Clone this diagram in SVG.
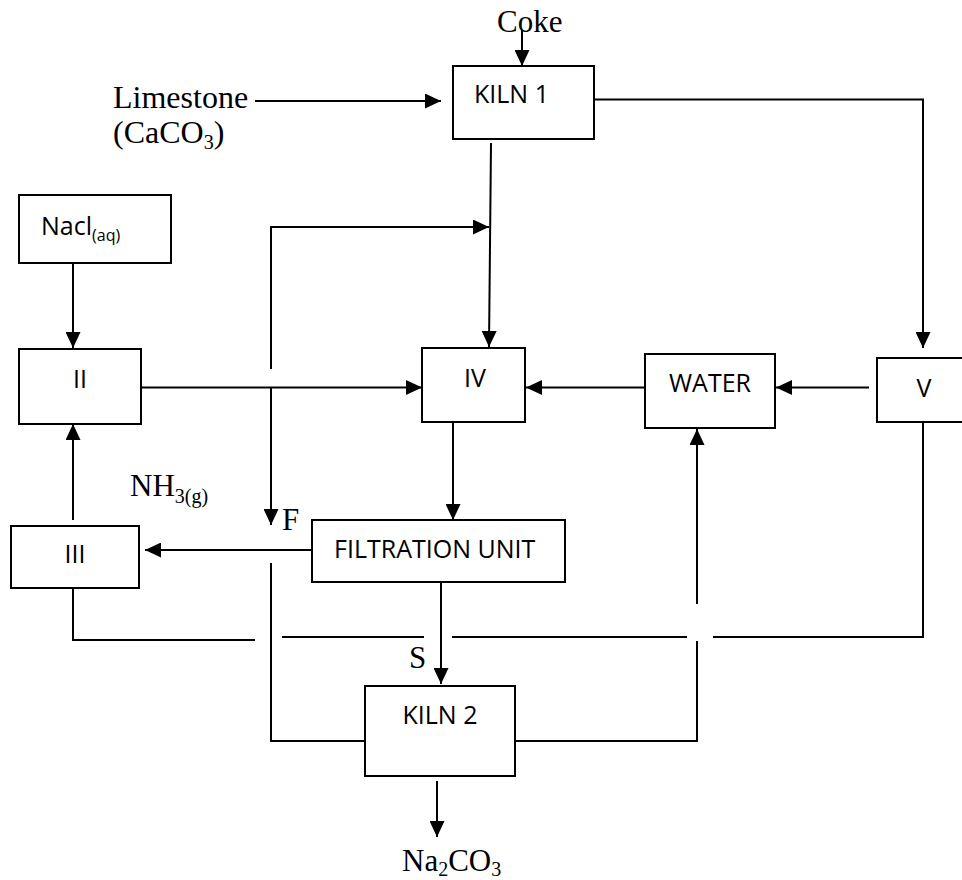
<svg xmlns="http://www.w3.org/2000/svg" width="962" height="880" viewBox="0 0 962 880">
<style>
.box{fill:#fff;stroke:#000;stroke-width:2}
.lbl{font-family:"Open Sans","Liberation Sans",sans-serif;font-size:25px;fill:#000}
.ser{font-family:"Liberation Serif","Times New Roman",serif;font-size:31px;fill:#000}
.big{font-size:32px}
.sub{font-size:20px}
.ln{fill:none;stroke:#000;stroke-width:2}
.arr{marker-end:url(#ah)}
</style>
<defs>
<marker id="ah" markerUnits="userSpaceOnUse" markerWidth="16" markerHeight="15" refX="16" refY="7.5" orient="auto">
<path d="M0,0 L16,7.5 L0,15 z" fill="#000"/>
</marker>
</defs>
<rect width="962" height="880" fill="#fff"/>

<g id="connectors">
<path class="ln arr" d="M522,30 V66"/>
<path class="ln arr" d="M255,101 H441"/>
<path class="ln arr" d="M594,99.5 H923 V348"/>
<path class="ln arr" d="M491,143 L489,347"/>
<path class="ln arr" d="M271,369 V227 H489"/>
<path class="ln arr" d="M73,263 V348"/>
<path class="ln arr" d="M141,387.5 H422"/>
<path class="ln arr" d="M271,387.5 V525"/>
<path class="ln arr" d="M453,422 V520"/>
<path class="ln arr" d="M312,550 H145"/>
<path class="ln arr" d="M73,520 V424"/>
<path class="ln arr" d="M645,387.5 H526"/>
<path class="ln arr" d="M869,387.5 H776"/>
<path class="ln arr" d="M697,604 V429"/>
<path class="ln arr" d="M441,582 V684"/>
<path class="ln arr" d="M437,781 V837"/>
<path class="ln" d="M271,563 V741 H365"/>
<path class="ln" d="M515,741 H697 V641"/>
<path class="ln" d="M73,588 V640 H255"/>
<path class="ln" d="M282,637 H424"/>
<path class="ln" d="M452,637 H687"/>
<path class="ln" d="M713,637 H923 V422"/>
</g>

<g id="coke"><text class="ser" x="497" y="32">Coke</text></g>
<g id="limestone">
<text class="ser big" x="113" y="108">Limestone</text>
<text class="ser big" x="113" y="143">(CaCO<tspan class="sub" dy="6">3</tspan><tspan dy="-6">)</tspan></text>
</g>
<g id="kiln1"><rect class="box" x="453" y="66" width="141" height="73"/><text class="lbl" x="474" y="103">KILN 1</text></g>
<g id="nacl"><rect class="box" x="19" y="195" width="152" height="68"/><text class="lbl" x="41" y="235">Nacl<tspan style="font-size:16px" dy="6">(aq)</tspan></text></g>
<g id="ii"><rect class="box" x="19" y="349" width="122" height="75"/><text class="lbl" x="80" y="388" text-anchor="middle">II</text></g>
<g id="iv"><rect class="box" x="422" y="348" width="103" height="74"/><text class="lbl" x="475" y="387" text-anchor="middle">IV</text></g>
<g id="water"><rect class="box" x="645" y="354" width="130" height="74"/><text class="lbl" x="710" y="392" text-anchor="middle">WATER</text></g>
<g id="v"><rect class="box" x="877" y="358" width="100" height="64"/><text class="lbl" x="924" y="397" text-anchor="middle">V</text></g>
<g id="nh3"><text class="ser" x="130" y="496">NH<tspan class="sub" dy="7">3(g)</tspan></text></g>
<g id="f"><text class="ser" x="282" y="530">F</text></g>
<g id="iii"><rect class="box" x="11" y="526" width="128" height="62"/><text class="lbl" x="75" y="563" text-anchor="middle">III</text></g>
<g id="filtration"><rect class="box" x="312" y="520" width="253" height="62"/><text class="lbl" x="334" y="558">FILTRATION UNIT</text></g>
<g id="s"><text class="ser" x="409" y="668">S</text></g>
<g id="kiln2"><rect class="box" x="365" y="686" width="150" height="90"/><text class="lbl" x="440" y="724" text-anchor="middle">KILN 2</text></g>
<g id="na2co3"><text class="ser" x="402" y="871">Na<tspan class="sub" dy="5">2</tspan><tspan dy="-5">CO</tspan><tspan class="sub" dy="5">3</tspan></text></g>
</svg>
